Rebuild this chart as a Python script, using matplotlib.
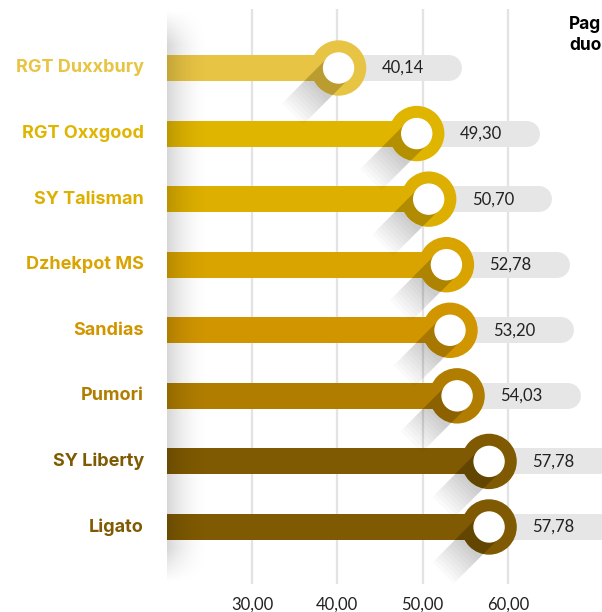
import numpy as np
import matplotlib.pyplot as plt
import matplotlib.transforms as mtransforms
from matplotlib.patches import Polygon, Circle

varieties = ['RGT Duxxbury', 'RGT Oxxgood', 'SY Talisman', 'Dzhekpot MS',
             'Sandias', 'Pumori', 'SY Liberty', 'Ligato']
values = [40.14, 49.30, 50.70, 52.78, 53.20, 54.03, 57.78, 57.78]
value_labels = ['40,14', '49,30', '50,70', '52,78', '53,20', '54,03', '57,78', '57,78']
colors = ['#E8C444', '#E0B500', '#DDAF00', '#D9A400', '#D19500', '#B07D00',
          '#7F5A02', '#7F5A02']
ticks = [30, 40, 50, 60]
tick_labels = ['30,00', '40,00', '50,00', '60,00']
title_lines = 'Pag\nduo'

plt.rcParams['font.family'] = ['Lato', 'DejaVu Sans']
bold_font = ['Inter', 'Lato', 'DejaVu Sans']

W, H = 602, 612
px_per_unit = 8.533
x0_px, top_px, bot_px = 166.7, 9, 584
row0_px, row_step = 68, 65.57

fig = plt.figure(figsize=(W / 100, H / 100), dpi=100)
ax = fig.add_axes([x0_px / W, (H - bot_px) / H, (W - x0_px) / W, (bot_px - top_px) / H])
xmax = 20 + (W - x0_px) / px_per_unit
ymin = -(row0_px - top_px) / row_step
ymax = 7 + (bot_px - (row0_px + 7 * row_step)) / row_step

rows = np.arange(len(values))
bar_h = 26 / row_step

# grey pills behind the value labels
for i, v in enumerate(values):
    ax.plot([v, v + 14.5 - 13 / px_per_unit], [i, i], color='#E6E6E6', lw=18.7,
            solid_capstyle='round', zorder=2)

ax.barh(rows, [v - 20 for v in values], left=20, height=bar_h, color=colors, zorder=3)

# rings, long shadows and holes
R, r = 0.27, 0.15  # inches
d = np.array([-1, -1]) / np.sqrt(2)
p = np.array([-1, 1]) / np.sqrt(2)
n_layers = 10
for i, v in enumerate(values):
    tr = fig.dpi_scale_trans + mtransforms.ScaledTranslation(v, i, ax.transData)
    ax.add_patch(Circle((0, 0), R, transform=tr, color=colors[i], zorder=4))
    for k in range(1, n_layers + 1):
        L = R + 0.38 * k / n_layers
        pts = [r * p, -r * p, -r * p + L * d, r * p + L * d]
        ax.add_patch(Polygon(pts, closed=True, transform=tr, facecolor='black',
                             alpha=0.018, lw=0, zorder=5))
    ax.add_patch(Circle((0, 0), r, transform=tr, color='white', zorder=6))
    ax.text(v + 43 / px_per_unit, i, value_labels[i], fontsize=12, color='#222222',
            va='center', ha='left', zorder=7)
    ax.text(20 - (x0_px - 144) / px_per_unit, i, varieties[i], fontsize=13,
            fontweight='bold', family=bold_font, color=colors[i], va='center',
            ha='right', clip_on=False)

# soft shadow along the left edge
gw, gh = 60, 200
tx = np.linspace(0, 1, gw)
ty = np.linspace(0, 1, gh)
horiz = (1 - tx) ** 2
vert = np.clip(np.minimum(ty, 1 - ty) / 0.06, 0, 1)
alpha_img = 0.16 * vert[:, None] * horiz[None, :]
rgba = np.zeros((gh, gw, 4))
rgba[..., 3] = alpha_img
ax.imshow(rgba, extent=[0, 45 / (W - x0_px), 0, 1], transform=ax.transAxes,
          aspect='auto', zorder=5.5, interpolation='bilinear')

ax.set_xlim(20, xmax)
ax.set_ylim(ymax, ymin)
ax.set_xticks(ticks, tick_labels)
ax.set_yticks([])
ax.tick_params(axis='x', length=0, pad=9, labelsize=12, labelcolor='#222222')
ax.grid(axis='x', color='#E3E3E3', lw=1.6, zorder=0)
ax.set_axisbelow(True)
for s in ax.spines.values():
    s.set_visible(False)

fig.text(569 / W, 1 - 16 / H, title_lines, fontsize=12.5, fontweight='bold',
         family=bold_font, color='black', va='top', ha='left', linespacing=1.3)

fig.savefig('out.png', dpi=100)
